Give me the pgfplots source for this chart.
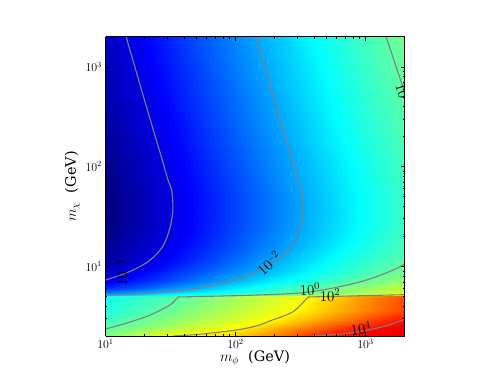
\RequirePackage{fix-cm}
\documentclass[border=0pt]{standalone}
\usepackage{pgfplots}
\pgfplotsset{compat=1.18}
\usepackage[no-math]{fontspec}
\setmainfont{DejaVu Serif}
\definecolor{ctr}{rgb}{.5,.5,.5}
\pgfplotsset{colormap={mpljet}{rgb(0pt)=(0,0,.5) rgb(13pt)=(0,0,1) rgb(39pt)=(0,1,1) rgb(70pt)=(1,1,0) rgb(92pt)=(1,0,0) rgb(100pt)=(.7,0,0)}}
\newcommand{\cl}[1]{\fontsize{15}{15}\selectfont $10^{#1}$}
\newcommand{\hy}{\mbox{\fontsize{7}{7}\selectfont$-$}}
\begin{document}
\begin{tikzpicture}
\useasboundingbox (-105.5bp,-38bp) rectangle (392.5bp,336bp);
\begin{axis}[
  scale only axis, width=299.1bp, height=299.3bp, at={(0,0)}, anchor=south west,
  view={0}{90}, xmode=log, ymode=log,
  xmin=10, xmax=2000, ymin=2, ymax=2000, zmin=-6, zmax=8,
  colormap name=mpljet, point meta min=-5, point meta max=5,
  tick align=inside, xtick pos=both, ytick pos=both,
  major tick length=4bp, minor tick length=2bp,
  tick style={black,line width=.4pt}, axis line style={black,line width=.6pt},
  ticklabel style={font=\fontsize{12}{12}\selectfont},
  xlabel={$m_\phi$\ \ (GeV)}, ylabel={$m_\chi$\ \ (GeV)},
  xlabel style={font=\fontsize{14.5}{15}\selectfont, at={(axis description cs:0.5,0)}, anchor=center, yshift=-22bp},
  ylabel style={font=\fontsize{14.5}{15}\selectfont, at={(axis description cs:0,0.5)}, anchor=center, yshift=33bp},
  axis on top,
]
\addplot3[surf, shader=interp, mesh/ordering=x varies, mesh/cols=14] table[x=x,y=y,z=v] {
x y v
10 2000 -4.32
14.1 2000 -4.02
20 2000 -3.72
28.2 2000 -3.42
39.8 2000 -3.12
63.1 2000 -2.72
100 2000 -2.32
158 2000 -1.92
251 2000 -1.52
398 2000 -1.12
631 2000 -0.72
1000 2000 -0.32
1413 2000 -0.02
2000 2000 0.29
10 1000 -4.45
14.1 1000 -4.15
20 1000 -3.85
28.2 1000 -3.55
39.8 1000 -3.25
63.1 1000 -2.85
100 1000 -2.45
158 1000 -2.05
251 1000 -1.65
398 1000 -1.25
631 1000 -0.85
1000 1000 -0.45
1413 1000 -0.15
2000 1000 0.15
10 501 -4.58
14.1 501 -4.28
20 501 -3.98
28.2 501 -3.68
39.8 501 -3.38
63.1 501 -2.98
100 501 -2.58
158 501 -2.18
251 501 -1.78
398 501 -1.38
631 501 -0.98
1000 501 -0.58
1413 501 -0.28
2000 501 0.02
10 251 -4.71
14.1 251 -4.41
20 251 -4.11
28.2 251 -3.81
39.8 251 -3.51
63.1 251 -3.11
100 251 -2.71
158 251 -2.31
251 251 -1.91
398 251 -1.51
631 251 -1.11
1000 251 -0.71
1413 251 -0.41
2000 251 -0.11
10 126 -4.85
14.1 126 -4.55
20 126 -4.25
28.2 126 -3.95
39.8 126 -3.65
63.1 126 -3.25
100 126 -2.85
158 126 -2.45
251 126 -2.05
398 126 -1.65
631 126 -1.25
1000 126 -0.85
1413 126 -0.55
2000 126 -0.25
10 79.4 -4.94
14.1 79.4 -4.64
20 79.4 -4.34
28.2 79.4 -4.04
39.8 79.4 -3.74
63.1 79.4 -3.34
100 79.4 -2.94
158 79.4 -2.54
251 79.4 -2.14
398 79.4 -1.74
631 79.4 -1.34
1000 79.4 -0.94
1413 79.4 -0.64
2000 79.4 -0.34
10 50.1 -5.02
14.1 50.1 -4.72
20 50.1 -4.42
28.2 50.1 -4.12
39.8 50.1 -3.82
63.1 50.1 -3.42
100 50.1 -3.02
158 50.1 -2.62
251 50.1 -2.22
398 50.1 -1.82
631 50.1 -1.42
1000 50.1 -1.02
1413 50.1 -0.72
2000 50.1 -0.42
10 31.6 -5.03
14.1 31.6 -4.73
20 31.6 -4.43
28.2 31.6 -4.13
39.8 31.6 -3.83
63.1 31.6 -3.43
100 31.6 -3.03
158 31.6 -2.63
251 31.6 -2.23
398 31.6 -1.83
631 31.6 -1.43
1000 31.6 -1.03
1413 31.6 -0.73
2000 31.6 -0.43
10 22.4 -4.98
14.1 22.4 -4.68
20 22.4 -4.38
28.2 22.4 -4.08
39.8 22.4 -3.78
63.1 22.4 -3.38
100 22.4 -2.98
158 22.4 -2.58
251 22.4 -2.18
398 22.4 -1.78
631 22.4 -1.38
1000 22.4 -0.98
1413 22.4 -0.68
2000 22.4 -0.38
10 15.8 -4.87
14.1 15.8 -4.57
20 15.8 -4.27
28.2 15.8 -3.97
39.8 15.8 -3.67
63.1 15.8 -3.27
100 15.8 -2.87
158 15.8 -2.47
251 15.8 -2.05
398 15.8 -1.65
631 15.8 -1.25
1000 15.8 -0.85
1413 15.8 -0.55
2000 15.8 -0.25
10 11.2 -4.68
14.1 11.2 -4.37
20 11.2 -4.06
28.2 11.2 -3.74
39.8 11.2 -3.43
63.1 11.2 -3.02
100 11.2 -2.60
158 11.2 -2.18
251 11.2 -1.77
398 11.2 -1.35
631 11.2 -0.93
1000 11.2 -0.55
1413 11.2 -0.27
2000 11.2 -0.03
10 8.91 -4.30
14.1 8.91 -4.03
20 8.91 -3.73
28.2 8.91 -3.43
39.8 8.91 -3.12
63.1 8.91 -2.72
100 8.91 -2.32
158 8.91 -1.92
251 8.91 -1.52
398 8.91 -1.12
631 8.91 -0.72
1000 8.91 -0.32
1413 8.91 -0.02
2000 8.91 0.28
10 7.08 -3.90
14.1 7.08 -3.60
20 7.08 -3.30
28.2 7.08 -3.00
39.8 7.08 -2.70
63.1 7.08 -2.30
100 7.08 -1.87
158 7.08 -1.47
251 7.08 -1.07
398 7.08 -0.67
631 7.08 -0.28
1000 7.08 0.12
1413 7.08 0.42
2000 7.08 0.72
10 6.03 -3.30
14.1 6.03 -3.00
20 6.03 -2.70
28.2 6.03 -2.40
39.8 6.03 -2.10
63.1 6.03 -1.70
100 6.03 -1.30
158 6.03 -0.90
251 6.03 -0.48
398 6.03 -0.07
631 6.03 0.33
1000 6.03 0.73
1413 6.03 1.03
2000 6.03 1.33
10 5.50 -2.60
14.1 5.50 -2.33
20 5.50 -2.07
28.2 5.50 -1.81
39.8 5.50 -1.55
63.1 5.50 -1.20
100 5.50 -0.86
158 5.50 -0.51
251 5.50 -0.17
398 5.50 0.18
631 5.50 0.53
1000 5.50 0.87
1413 5.50 1.13
2000 5.50 1.40
10 5.15 -1.90
14.1 5.15 -1.65
20 5.15 -1.35
28.2 5.15 -1.10
39.8 5.15 -0.80
63.1 5.15 -0.55
100 5.15 -0.20
158 5.15 0.15
251 5.15 0.45
398 5.15 0.80
631 5.15 1.10
1000 5.15 1.45
1413 5.15 1.70
2000 5.15 1.95
10 5.01 -1.00
14.1 5.01 -0.82
20 5.01 -0.52
28.2 5.01 -0.22
39.8 5.01 0.08
63.1 5.01 0.48
100 5.01 0.88
158 5.01 1.28
251 5.01 1.68
398 5.01 2.08
631 5.01 2.48
1000 5.01 2.88
1413 5.01 3.18
2000 5.01 3.48
10 4.47 -0.85
14.1 4.47 -0.62
20 4.47 -0.38
28.2 4.47 -0.12
39.8 4.47 0.15
63.1 4.47 0.55
100 4.47 0.95
158 4.47 1.35
251 4.47 1.75
398 4.47 2.15
631 4.47 2.55
1000 4.47 2.95
1413 4.47 3.25
2000 4.47 3.55
10 3.55 -0.70
14.1 3.55 -0.45
20 3.55 -0.17
28.2 3.55 0.12
39.8 3.55 0.40
63.1 3.55 0.78
100 3.55 1.16
158 3.55 1.54
251 3.55 1.92
398 3.55 2.30
631 3.55 2.68
1000 3.55 3.06
1413 3.55 3.35
2000 3.55 3.63
10 2.82 -0.33
14.1 2.82 -0.05
20 2.82 0.24
28.2 2.82 0.53
39.8 2.82 0.82
63.1 2.82 1.20
100 2.82 1.58
158 2.82 1.95
251 2.82 2.34
398 2.82 2.74
631 2.82 3.14
1000 2.82 3.54
1413 2.82 3.85
2000 2.82 4.15
10 2.40 0.00
14.1 2.40 0.30
20 2.40 0.60
28.2 2.40 0.90
39.8 2.40 1.20
63.1 2.40 1.60
100 2.40 2.00
158 2.40 2.42
251 2.40 2.84
398 2.40 3.26
631 2.40 3.68
1000 2.40 4.05
1413 2.40 4.20
2000 2.40 4.35
10 2 0.40
14.1 2 0.85
20 2 1.30
28.2 2 1.85
39.8 2 2.05
63.1 2 2.25
100 2 2.45
158 2 2.85
251 2 3.30
398 2 3.85
631 2 4.15
1000 2 4.30
1413 2 4.40
2000 2 4.50
};
% contours
\addplot3[ctr, line width=1.1pt, smooth, tension=.5] coordinates {(14.4,2000,7)(20.8,385,7)(26.2,140,7)(30.3,73.1,7)(32.3,58.1,7)(33.0,36.6,7)(31.3,24.2,7)(27.5,15.7,7)(21.2,11.1,7)(14.6,8.61,7)(10,7.28,7)};
\addplot3[ctr, line width=1.1pt, smooth, tension=.5] coordinates {(144,2000,7)(208,385,7)(262,140,7)(303,73.1,7)(323,58.1,7)(330,36.6,7)(323,29.0,7)(287,17.6,7)(220,12.1,7)(163,9.6,7)(129,8.17,7)(102,7.40,7)(60,6.19,7)(35.3,5.65,7)(18.4,5.27,7)(10,5.12,7)};
\addplot3[ctr, line width=1.1pt] coordinates {(1440,2000,7)(2000,557,7)};
\addplot3[ctr, line width=1.1pt, smooth, tension=.5] coordinates {(2000,10.5,7)(1630,9.16,7)(1020,7.28,7)(562,6.05,7)(313,5.40,7)(129,5.12,7)(36.1,4.92,7)};
\addplot3[ctr, line width=1.1pt, smooth, tension=.5] coordinates {(36.1,4.92,7)(31.3,4.09,7)(22,3.24,7)(14.6,2.70,7)(10,2.35,7)};
\addplot3[ctr, line width=1.1pt, smooth, tension=.5] coordinates {(33.0,2,7)(50.6,2.07,7)(103,2.30,7)(154,2.58,7)(184,2.83,7)(277,3.50,7)(361,4.92,7)};
\addplot3[ctr, line width=1.1pt] coordinates {(361,4.92,7)(2000,5.19,7)};
\addplot3[ctr, line width=1.1pt, smooth, tension=.5] coordinates {(409,2,7)(760,2.14,7)(1365,2.48,7)(2000,2.94,7)};
% contour labels
\node[rotate=85,inner sep=0pt] at (axis cs:13.4,8.55,8) {\cl{\hy 4}};
\node[rotate=42,inner sep=0pt] at (axis cs:181,10.8,8) {\cl{\hy 2}};
\node[rotate=3,inner sep=0pt] at (axis cs:374,5.92,8) {\cl{0}};
\node[inner sep=0pt] at (axis cs:533,5.15,8) {\cl{2}};
\node[rotate=8,inner sep=0pt] at (axis cs:923,2.40,8) {\cl{4}};
\node[rotate=-72,inner sep=0pt] at (axis cs:1980,545,8) {\cl{0}};
\end{axis}
\end{tikzpicture}
\end{document}
